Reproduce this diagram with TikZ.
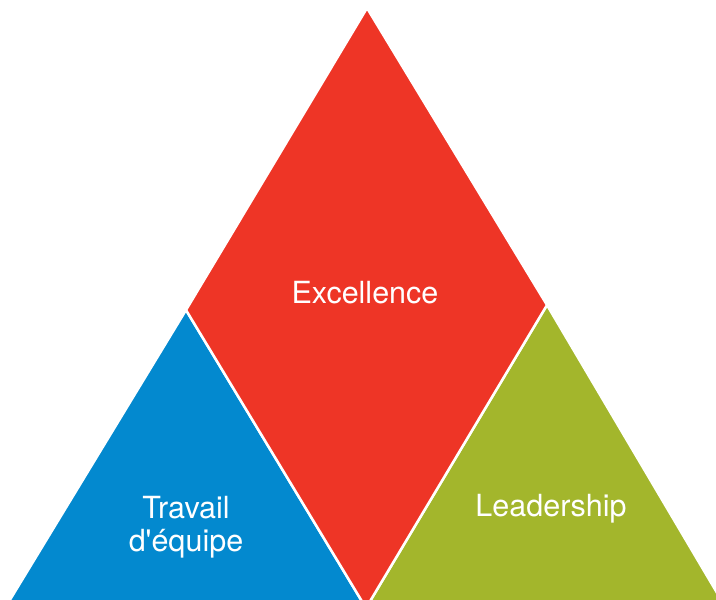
\documentclass[tikz,border=0pt]{standalone}
\usepackage{fontspec}
\setmainfont{TeX Gyre Heros}
\definecolor{excred}{HTML}{EE3526}
\definecolor{teamblue}{HTML}{0389CF}
\definecolor{leadgreen}{HTML}{A3B62C}
\begin{document}
\begin{tikzpicture}[x=1pt,y=-1pt,
    part/.style={draw=white,line width=2.5pt,line join=miter},
    lbl/.style={text=white,font=\fontsize{30.5}{33}\selectfont,align=center}]
  \clip (0,0) rectangle (716,600);
  \coordinate (apex) at (367,8);
  \coordinate (midl) at (186,310);
  \coordinate (midr) at (547,305);
  \coordinate (base) at (366,608);
  \coordinate (basel) at (5,608);
  \coordinate (baser) at (726,608);
  % the three parts
  \draw[part,fill=teamblue] (midl) -- (basel) -- (base) -- cycle;
  \draw[part,fill=leadgreen] (midr) -- (base) -- (baser) -- cycle;
  \draw[part,fill=excred] (apex) -- (midl) -- (base) -- (midr) -- cycle;
  % labels
  \node[lbl] (excellence) at (365,293) {Excellence};
  \node[lbl] (travail) at (186,527) {Travail\\d\textquotesingle équipe};
  \node[lbl] (leadership) at (551,509) {Leadership};
\end{tikzpicture}
\end{document}
